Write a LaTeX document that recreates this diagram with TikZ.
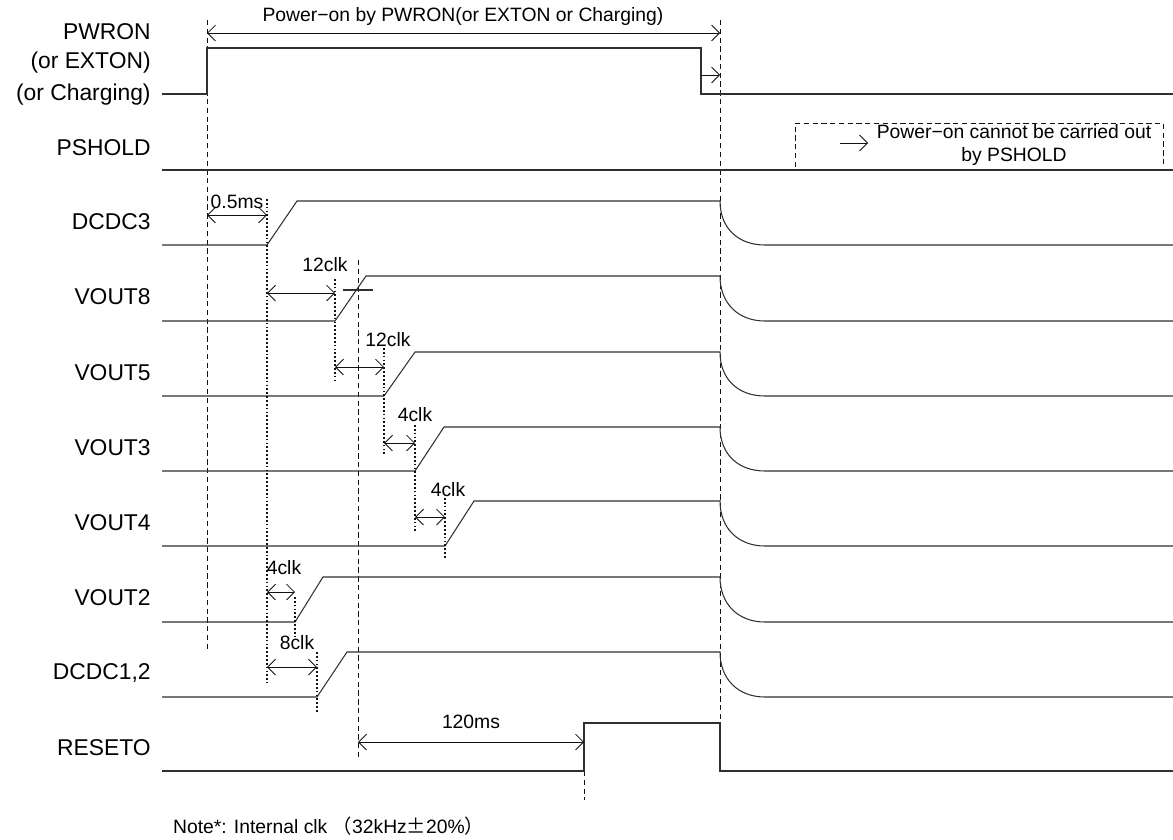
\documentclass[tikz,border=0pt]{standalone}
\usepackage{fontspec}
\setmainfont{Liberation Sans}
\newfontfamily\jpfont{Noto Sans CJK JP}
\usepackage{tikz}
\usetikzlibrary{arrows.meta}
\definecolor{SeqInk}{HTML}{303030}
\definecolor{SeqGuide}{HTML}{111111}

\begin{document}
\begin{tikzpicture}[x=0.02cm,y=-0.02cm,
  sig/.style={draw=SeqInk,line width=0.6pt},
  guide/.style={draw=SeqGuide,line width=0.5pt,dash pattern=on 3pt off 2pt},
  tick/.style={draw=SeqGuide,line width=1pt,dash pattern=on 1pt off 1.2pt},
  span/.style={draw=SeqGuide,line width=0.5pt,{Straight Barb[length=4.5pt,width=9pt]}-{Straight Barb[length=4.5pt,width=9pt]}},
  push/.style={draw=SeqGuide,line width=0.5pt,-{Straight Barb[length=4.5pt,width=9pt]}},
  lbl/.style={anchor=east,inner sep=0pt,font=\fontsize{13}{15}\selectfont},
  small/.style={inner sep=1pt,font=\fontsize{11}{13}\selectfont}]
\useasboundingbox (0,0) rectangle (1173,839);
\node[lbl] (pwron) at (151,32) {PWRON};
\node[lbl] (exton) at (151,63) {(or EXTON)};
\node[lbl] (chrg) at (151,95) {(or Charging)};
\node[lbl] (pshold) at (151,148) {PSHOLD};
\node[lbl] (dcdc3) at (151,222) {DCDC3};
\node[lbl] (vout8) at (151,297) {VOUT8};
\node[lbl] (vout5) at (151,373) {VOUT5};
\node[lbl] (vout3) at (151,448) {VOUT3};
\node[lbl] (vout4) at (151,523) {VOUT4};
\node[lbl] (vout2) at (151,598) {VOUT2};
\node[lbl] (dcdc12) at (151,673) {DCDC1,2};
\node[lbl] (reseto) at (151,748) {RESETO};
\draw[guide] (207,20) -- (207,652);
\draw[guide] (720,20) -- (720,771);
\draw[guide] (358,260) -- (358,758);
\draw[guide] (584,771) -- (584,800);
\draw[sig] (162,94) -- (207,94) -- (207,48) -- (701,48) -- (701,94) -- (1173,94);
\draw[span] (207,33) -- (720,33);
\node[small] (pwrspan) at (463,16) {Power−on by PWRON(or EXTON or Charging)};
\draw[push] (701,75) -- (720,75);
\draw[sig] (162,170) -- (1173,170);
\draw[guide] (795,167) |- (1163,123) -- (1163,167);
\draw[push] (840,143) -- (868,143);
\node[small,align=center] (nohold) at (1014,145) {Power−on cannot be carried out\\by PSHOLD};
\draw[sig] (162,245) -- (267,245) -- (297,201) -- (720,201) .. controls (720,228) and (738,245) .. (765,245) -- (1173,245);
\draw[sig] (162,321) -- (335,321) -- (366,276) -- (720,276) .. controls (720,303) and (738,321) .. (765,321) -- (1173,321);
\draw[sig] (162,396) -- (384,396) -- (415,352) -- (720,352) .. controls (720,379) and (738,396) .. (765,396) -- (1173,396);
\draw[sig] (162,471) -- (415,471) -- (444,427) -- (720,427) .. controls (720,454) and (738,471) .. (765,471) -- (1173,471);
\draw[sig] (162,546) -- (445,546) -- (474,501) -- (720,501) .. controls (720,528) and (738,546) .. (765,546) -- (1173,546);
\draw[sig] (162,622) -- (295,622) -- (323,577) -- (720,577) .. controls (720,604) and (738,622) .. (765,622) -- (1173,622);
\draw[sig] (162,697) -- (317,697) -- (347,652) -- (720,652) .. controls (720,679) and (738,697) .. (765,697) -- (1173,697);
\draw[sig] (162,771) -- (584,771) -- (584,723) -- (720,723) -- (720,771) -- (1173,771);
\draw[sig] (343,290) -- (373,290);
\draw[tick] (267,199) -- (267,683);
\draw[tick] (335,279) -- (335,380);
\draw[tick] (384,348) -- (384,455);
\draw[tick] (415,425) -- (415,532);
\draw[tick] (445,498) -- (445,559);
\draw[tick] (295,597) -- (295,637);
\draw[tick] (317,652) -- (317,712);
\draw[span] (207,215) -- (267,215);
\node[small] (t05) at (237,202) {0.5ms};
\draw[span] (267,293) -- (335,293);
\node[small] (t12a) at (325,265) {12clk};
\draw[span] (335,367) -- (384,367);
\node[small] (t12b) at (388,340) {12clk};
\draw[span] (384,443) -- (415,443);
\node[small] (t4a) at (415,415) {4clk};
\draw[span] (415,517) -- (445,517);
\node[small] (t4b) at (448,490) {4clk};
\draw[span] (267,592) -- (295,592);
\node[small] (t4c) at (284,568) {4clk};
\draw[span] (267,667) -- (317,667);
\node[small] (t8) at (297,643) {8clk};
\draw[span] (358,742) -- (584,742);
\node[small] (t120) at (471,722) {120ms};
\node[small,anchor=west] (clknote) at (171,826) {Note*: Internal clk {\jpfont （}32kHz{\jpfont ±}20\%{\jpfont ）}};
\end{tikzpicture}
\end{document}
